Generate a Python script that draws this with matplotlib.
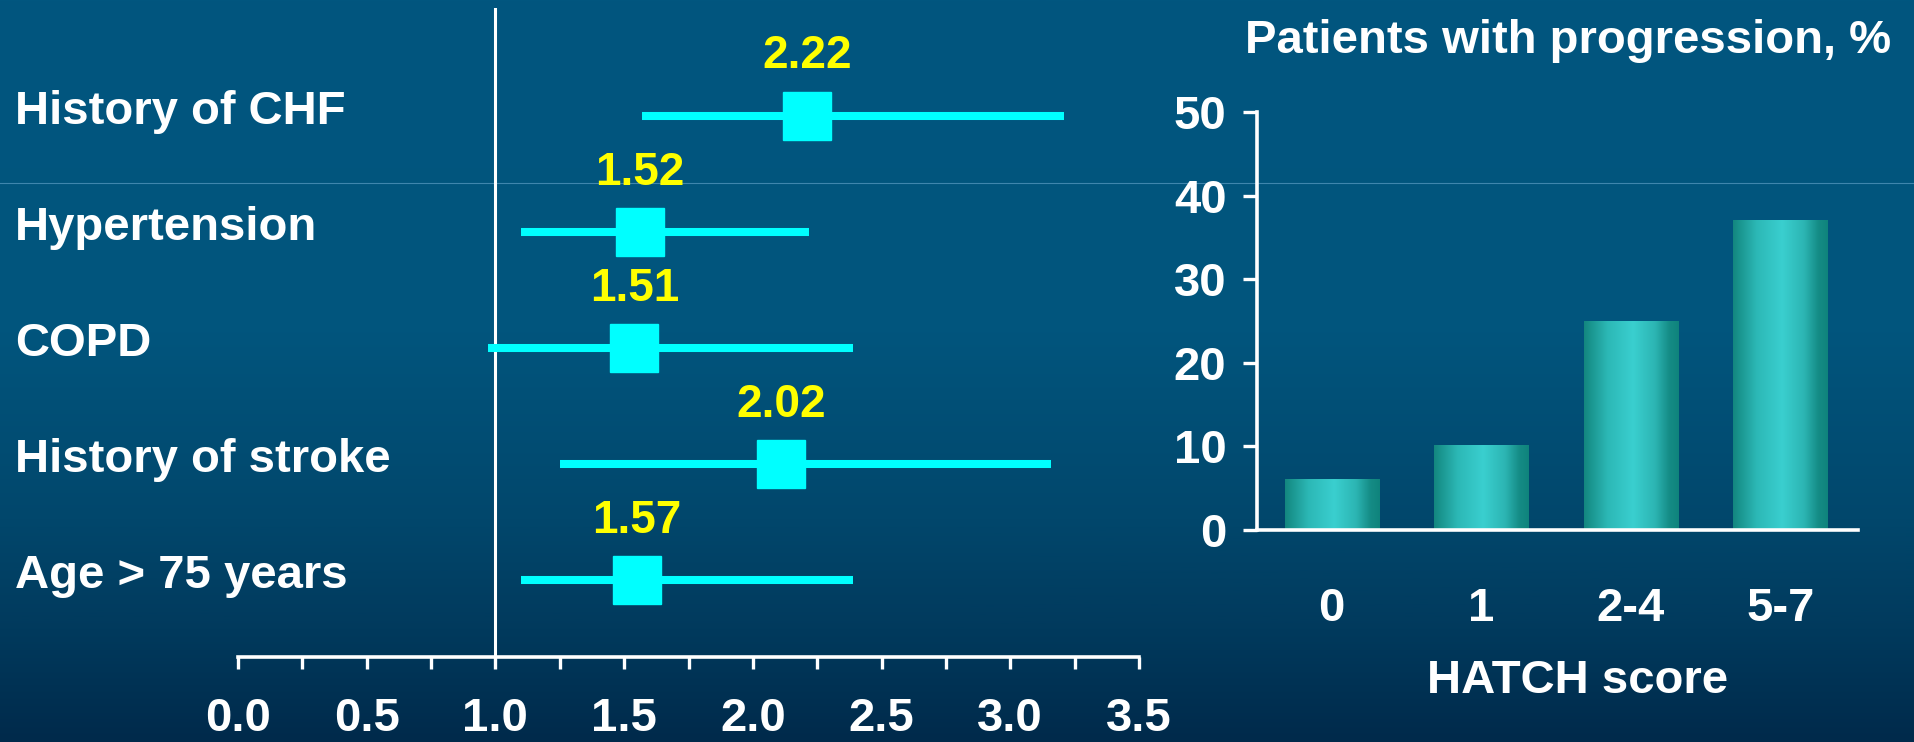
import numpy as np
import matplotlib.pyplot as plt
from matplotlib.colors import LinearSegmentedColormap
from matplotlib.lines import Line2D
from matplotlib.transforms import blended_transform_factory

plt.rcParams['font.family'] = ['Liberation Sans', 'DejaVu Sans']
plt.rcParams['font.weight'] = 'bold'

# Forest plot data (top to bottom)
factors = ["History of CHF", "Hypertension", "COPD", "History of stroke", "Age > 75 years"]
or_labels = ["2.22", "1.52", "1.51", "2.02", "1.57"]
or_point = [2.21, 1.56, 1.54, 2.11, 1.55]
ci_low = [1.57, 1.10, 0.97, 1.25, 1.10]
ci_high = [3.21, 2.22, 2.39, 3.16, 2.39]
x_ticks = [0.0, 0.5, 1.0, 1.5, 2.0, 2.5, 3.0, 3.5]

# Bar chart data
hatch_scores = ["0", "1", "2-4", "5-7"]
progression_pct = [6.1, 10.2, 25.0, 37.1]
y_ticks = [0, 10, 20, 30, 40, 50]

W, H = 1914, 742
fig = plt.figure(figsize=(W / 100, H / 100), dpi=100)

# slide background (row 0 of the image = top of the slide)
bg = fig.add_axes([0, 0, 1, 1], zorder=-10)
bg_cmap = LinearSegmentedColormap.from_list(
    "bg", [(0, "#01567f"), (0.45, "#02557d"), (0.7, "#01476c"), (0.85, "#013a5d"), (1.0, "#002a4b")])
bg.imshow(np.linspace(0, 1, 256).reshape(-1, 1), cmap=bg_cmap, aspect="auto",
          extent=[0, 1, 0, 1], origin="upper")
bg.add_line(Line2D([0, 1], [1 - 183 / H, 1 - 183 / H], color="#3f86ad", lw=0.8))
bg.set_xlim(0, 1)
bg.set_ylim(0, 1)
bg.axis("off")

white = "white"
fs = 34

# ---- forest plot ----
ax = fig.add_axes([238 / W, 1 - 657 / H, 901 / W, 649 / H])
ax.patch.set_alpha(0)
rows = np.arange(len(factors))
ax.axvline(1.0, color=white, lw=2.2, zorder=1)
ax.hlines(rows, ci_low, ci_high, color="#00ffff", lw=5.8, zorder=2)
ax.plot(or_point, rows, "s", color="#00ffff", markersize=35, zorder=3)
for r, x, lab in zip(rows, or_point, or_labels):
    ax.text(x, r - 0.405, lab, color="#ffff00", fontsize=33, ha="center", va="baseline")
label_tr = blended_transform_factory(fig.transFigure, ax.transData)
for r, name in zip(rows, factors):
    ax.text(15 / W, r + 0.07, name, color=white, fontsize=fs, ha="left", va="baseline",
            transform=label_tr)
ax.set_xlim(0, 3.5)
ax.set_ylim(4.664, -0.926)
for s in ["top", "left", "right"]:
    ax.spines[s].set_visible(False)
ax.spines["bottom"].set_color(white)
ax.spines["bottom"].set_linewidth(2.6)
ax.set_yticks([])
ax.set_xticks(x_ticks)
ax.set_xticklabels([f"{t:.1f}" for t in x_ticks])
ax.set_xticks(np.arange(0.25, 3.5, 0.5), minor=True)
ax.tick_params(axis="x", which="both", colors=white, direction="out", length=8.6, width=2.4,
               labelsize=fs, pad=20)

# ---- bar chart ----
bx = fig.add_axes([1257 / W, 1 - 530 / H, 601 / W, 418 / H])
bx.patch.set_alpha(0)
xpos = np.arange(len(hatch_scores))
bars = bx.bar(xpos, progression_pct, width=0.63, color="none")
bar_cmap = LinearSegmentedColormap.from_list(
    "bar", [(0, "#13877f"), (0.25, "#2cb8b6"), (0.52, "#3acfcf"), (0.75, "#2cb5b3"),
            (0.9, "#158c86"), (1.0, "#0f837c")])
grad = np.linspace(0, 1, 256).reshape(1, -1)
for b in bars:
    x0, y0 = b.get_x(), b.get_y()
    im = bx.imshow(grad, cmap=bar_cmap, aspect="auto",
                   extent=[x0, x0 + b.get_width(), y0, y0 + b.get_height()], zorder=2)
    im.set_clip_path(b)
bx.set_xlim(-0.5, 3.52)
bx.set_ylim(0, 50)
for s in ["top", "right"]:
    bx.spines[s].set_visible(False)
for s in ["left", "bottom"]:
    bx.spines[s].set_color(white)
    bx.spines[s].set_linewidth(2.6)
bx.set_yticks(y_ticks)
bx.set_xticks(xpos)
bx.set_xticklabels(hatch_scores)
bx.tick_params(axis="y", colors=white, direction="out", length=10, width=2.4, labelsize=fs, pad=12)
bx.tick_params(axis="x", colors=white, length=0, labelsize=fs, pad=41)

fig.text(1568 / W, 1 - 53 / H, "Patients with progression, %", color=white, fontsize=fs,
         ha="center", va="baseline")
fig.text(1578 / W, 1 - 681 / H, "HATCH score", color=white, fontsize=fs, ha="center", va="center")

fig.savefig("out.png", dpi=100)
